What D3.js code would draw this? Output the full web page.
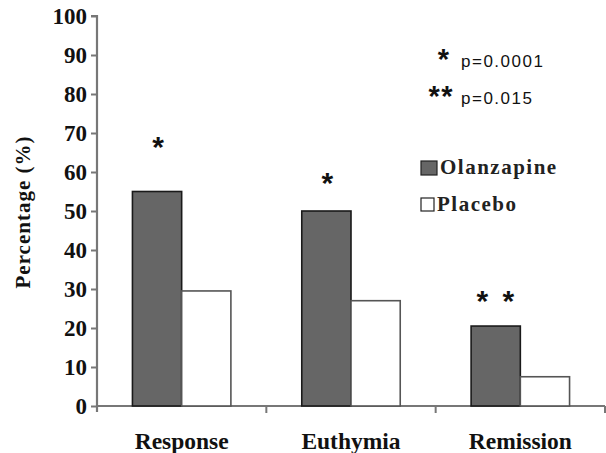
<!DOCTYPE html>
<html><head><meta charset="utf-8">
<script src="https://cdn.jsdelivr.net/npm/d3@7"></script>
<style>body{margin:0;background:#fff;}svg{display:block;}</style>
</head><body>
<svg id="c" width="606" height="453"></svg>
<script>
const categories = ["Response", "Euthymia", "Remission"];
const seriesNames = ["Olanzapine", "Placebo"];
const olanzapine = [55, 50, 20.5];
const placebo = [29.5, 27, 7.5];
const stars = ["*", "*", "* *"];
const starLevels = [67.5, 58.2, 28];
const yTicks = [0, 10, 20, 30, 40, 50, 60, 70, 80, 90, 100];
const pNotes = [["*", "p=0.0001"], ["**", "p=0.015"]];

const svg = d3.select("#c");
const x0 = 97, x1 = 605, yTop = 16, yBot = 406;
const serif = "Liberation Serif, Times New Roman, serif";
const sans = "Liberation Sans, Arial, sans-serif";
const y = d3.scaleLinear().domain([0, 100]).range([yBot, yTop]);
const x = d3.scaleBand().domain(categories).range([x0, x1]).paddingInner(0).paddingOuter(0);
const inner = d3.scaleBand().domain(seriesNames).range([0, x.bandwidth()]).paddingInner(0).paddingOuter(0.72);
const colors = {Olanzapine: "#666666", Placebo: "#ffffff"};
const strokes = {Olanzapine: "#1a1a1a", Placebo: "#555555"};

// y axis
const ya = svg.append("g").attr("transform", `translate(${x0},0)`)
  .call(d3.axisLeft(y).tickValues(yTicks).tickSize(6).tickPadding(4));
ya.select(".domain").attr("stroke", "#777").attr("stroke-width", 2.2).attr("d", `M-6,${yTop}H0V${yBot + 6}`);
ya.selectAll(".tick line").attr("stroke", "#777").attr("stroke-width", 2);
ya.selectAll(".tick text").attr("font-family", serif)
  .attr("font-weight", "bold").attr("font-size", 23).attr("fill", "#111").attr("dy", "0.34em");

// x axis
svg.append("line").attr("x1", x0).attr("x2", x1).attr("y1", yBot).attr("y2", yBot)
  .attr("stroke", "#777").attr("stroke-width", 2);
categories.forEach(c => {
  const xe = x(c) + x.bandwidth();
  svg.append("line").attr("x1", xe).attr("x2", xe).attr("y1", yBot).attr("y2", yBot + 7)
    .attr("stroke", "#777").attr("stroke-width", 2);
});
svg.append("g").selectAll("text").data(categories).join("text")
  .attr("x", d => x(d) + x.bandwidth() / 2).attr("y", 449)
  .attr("text-anchor", "middle").attr("font-family", serif)
  .attr("font-weight", "bold").attr("font-size", 23.5).attr("fill", "#111").text(d => d);

// y title
svg.append("text").attr("transform", "translate(30,212) rotate(-90)")
  .attr("text-anchor", "middle").attr("font-family", serif)
  .attr("font-weight", "bold").attr("font-size", 21).attr("letter-spacing", 1)
  .attr("fill", "#111").text("Percentage (%)");

// bars
const data = [];
categories.forEach((c, i) => {
  data.push({c, s: "Olanzapine", v: olanzapine[i]});
  data.push({c, s: "Placebo", v: placebo[i]});
});
svg.append("g").selectAll("rect").data(data).join("rect")
  .attr("x", d => x(d.c) + inner(d.s))
  .attr("y", d => y(d.v))
  .attr("width", inner.bandwidth())
  .attr("height", d => y(0) - y(d.v))
  .attr("fill", d => colors[d.s])
  .attr("stroke", d => strokes[d.s]).attr("stroke-width", 1.6);

// significance stars (centre of glyph at starLevels)
svg.append("g").selectAll("text").data(categories).join("text")
  .attr("x", d => x(d) + inner("Olanzapine") + inner.bandwidth() / 2 + 1)
  .attr("y", (d, i) => y(starLevels[i]) + 14)
  .attr("text-anchor", "middle").attr("font-family", sans)
  .attr("font-weight", "bold").attr("font-size", 30).attr("fill", "#111")
  .attr("letter-spacing", (d, i) => stars[i].length > 1 ? 3 : 0)
  .text((d, i) => stars[i]);

// p-value notes
const pY = [67, 104];
const starRight = [449, 454];
pNotes.forEach((p, i) => {
  svg.append("text").attr("x", starRight[i]).attr("y", pY[i] + 2).attr("text-anchor", "end")
    .attr("font-family", sans).attr("font-weight", "bold").attr("letter-spacing", i ? 1.5 : 0)
    .attr("font-size", 29).attr("fill", "#111").text(p[0]);
  svg.append("text").attr("x", 461).attr("y", pY[i])
    .attr("font-family", sans).attr("letter-spacing", 1.5)
    .attr("font-size", 17).attr("fill", "#111").text(p[1]);
});

// legend
const legY = [161, 198];
seriesNames.forEach((s, i) => {
  svg.append("rect").attr("x", 421).attr("y", legY[i]).attr("width", i === 0 ? 16 : 13).attr("height", i === 0 ? 14 : 13)
    .attr("fill", colors[s]).attr("stroke", "#222").attr("stroke-width", 1.2);
  svg.append("text").attr("x", i === 0 ? 440 : 437).attr("y", legY[i] + 13)
    .attr("font-family", serif).attr("font-weight", "bold").attr("letter-spacing", 1.5)
    .attr("font-size", 21).attr("fill", "#222").text(s);
});
</script>
</body></html>
